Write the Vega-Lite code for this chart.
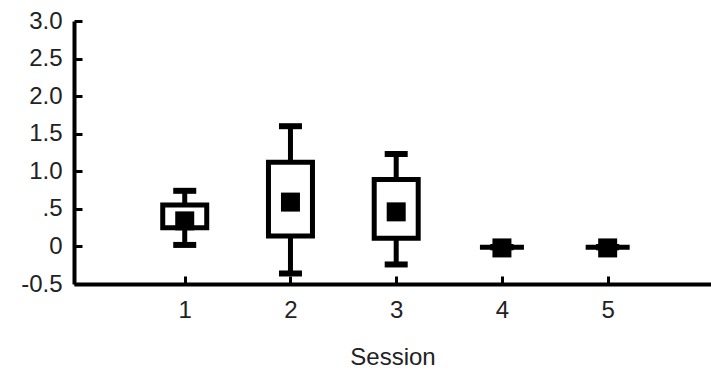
{
  "$schema": "https://vega.github.io/schema/vega-lite/v6.json",
  "autosize": "none",
  "width": 637,
  "height": 263,
  "padding": {"left": 74, "top": 21, "right": 0, "bottom": 87},
  "background": "white",
  "config": {
    "view": {"stroke": null},
    "axis": {
      "grid": false,
      "domainColor": "black",
      "domainWidth": 4,
      "tickColor": "black",
      "tickWidth": 3,
      "labelFont": "Liberation Sans",
      "labelFontSize": 24,
      "labelColor": "#222",
      "labelOverlap": false,
      "titleFont": "Liberation Sans",
      "titleFontSize": 24,
      "titleFontWeight": "normal",
      "titleColor": "#222"
    }
  },
  "data": {
    "values": [
      {"session": 1, "lo": 0.02, "q1": 0.25, "q3": 0.55, "hi": 0.74, "mean": 0.34},
      {"session": 2, "lo": -0.36, "q1": 0.14, "q3": 1.12, "hi": 1.6, "mean": 0.59},
      {"session": 3, "lo": -0.24, "q1": 0.11, "q3": 0.89, "hi": 1.23, "mean": 0.46},
      {"session": 4, "lo": -0.01, "q1": -0.01, "q3": -0.01, "hi": -0.01, "mean": -0.02},
      {"session": 5, "lo": -0.01, "q1": -0.01, "q3": -0.01, "hi": -0.01, "mean": -0.02}
    ]
  },
  "resolve": {"axis": {"x": "independent", "y": "independent"}},
  "layer": [
    {
      "mark": {"type": "rule", "color": "black", "strokeWidth": 5},
      "encoding": {
        "x": {
          "field": "session",
          "type": "quantitative",
          "scale": {"domain": [0, 5.93], "nice": false, "zero": false},
          "axis": {"values": [1, 2, 3, 4, 5], "format": "d", "title": "Session", "ticks": false, "labelOverlap": false, "labelPadding": 14, "titlePadding": 23}
        },
        "y": {
          "field": "lo",
          "type": "quantitative",
          "scale": {"domain": [-0.5, 3.0], "nice": false, "zero": false},
          "axis": {
            "values": [-0.5, 0, 0.5, 1, 1.5, 2, 2.5, 3],
            "labelExpr": "datum.value == 0 ? '0' : (datum.value == 0.5 ? '.5' : (datum.value < 0 ? '-0.5' : format(datum.value, '.1f')))",
            "title": null,
            "ticks": false,
            "labelOverlap": false,
            "labelPadding": 12
          }
        },
        "y2": {"field": "q1"}
      }
    },
    {
      "mark": {"type": "rule", "color": "black", "strokeWidth": 5},
      "encoding": {
        "x": {
          "field": "session",
          "type": "quantitative",
          "axis": {"orient": "top", "offset": -263, "values": [1, 2, 3, 4, 5], "domain": false, "labels": false, "ticks": true, "tickSize": 8, "title": null}
        },
        "y": {
          "field": "q3",
          "type": "quantitative",
          "axis": {"orient": "right", "offset": -637, "values": [-0.5, 0, 0.5, 1, 1.5, 2, 2.5, 3], "domain": false, "labels": false, "ticks": true, "tickSize": 8, "title": null}
        },
        "y2": {"field": "hi"}
      }
    },
    {
      "mark": {"type": "tick", "orient": "horizontal", "color": "black", "opacity": 1, "size": 23, "thickness": 6},
      "encoding": {
        "x": {"field": "session", "type": "quantitative", "axis": null},
        "y": {"field": "lo", "type": "quantitative", "axis": null}
      }
    },
    {
      "mark": {"type": "tick", "orient": "horizontal", "color": "black", "opacity": 1, "size": 23, "thickness": 6},
      "encoding": {
        "x": {"field": "session", "type": "quantitative", "axis": null},
        "y": {"field": "hi", "type": "quantitative", "axis": null}
      }
    },
    {
      "mark": {"type": "bar", "width": 44, "fill": "white", "stroke": "black", "strokeWidth": 5, "orient": "vertical"},
      "encoding": {
        "x": {"field": "session", "type": "quantitative", "axis": null},
        "y": {"field": "q1", "type": "quantitative", "axis": null},
        "y2": {"field": "q3"}
      }
    },
    {
      "mark": {"type": "point", "shape": "square", "filled": true, "color": "black", "size": 361, "opacity": 1},
      "encoding": {
        "x": {"field": "session", "type": "quantitative", "axis": null},
        "y": {"field": "mean", "type": "quantitative", "axis": null}
      }
    }
  ]
}
